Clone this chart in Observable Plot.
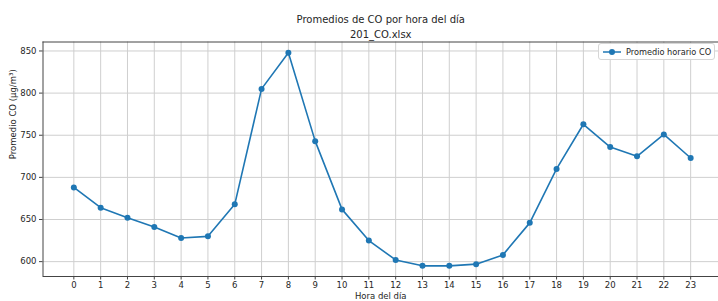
<!DOCTYPE html>
<html>
<head>
<meta charset="utf-8">
<script src="https://cdn.jsdelivr.net/npm/d3@7"></script>
<script src="https://cdn.jsdelivr.net/npm/@observablehq/plot@0.6"></script>
<style>
  html, body { margin: 0; padding: 0; background: #fff; }
  #wrap { position: relative; width: 718px; height: 301px; overflow: hidden; font-family: "DejaVu Sans", sans-serif; }
  #legend { position: absolute; left: 598px; top: 43px; width: 117px; height: 17px; box-sizing: border-box;
            border: 1px solid #d6d6d6; border-radius: 3px; background: rgba(255,255,255,0.9);
            font-size: 8.2px; color: #262626; display: flex; align-items: center; white-space: nowrap; }
  #legend svg { margin-left: 3px; margin-right: 4px; flex: none; }
</style>
</head>
<body>
<div id="wrap">
  <div id="chart"></div>
  <div id="legend"><svg width="20" height="10"><line x1="1" y1="5" x2="19" y2="5" stroke="#1f77b4" stroke-width="1.5"/><circle cx="10" cy="5" r="3" fill="#1f77b4"/></svg><span>Promedio horario CO</span></div>
</div>
<script>
const hours = [0,1,2,3,4,5,6,7,8,9,10,11,12,13,14,15,16,17,18,19,20,21,22,23];
const coValues = [688,664,652,641,628,630,668,805,848,743,662,625,602,595,595,597,608,646,710,763,736,725,751,723];
const yTicks = [600,650,700,750,800,850];
const titleText = "Promedios de CO por hora del día\n201_CO.xlsx";
const xLabel = "Hora del día";
const yLabel = "Promedio CO (µg/m³)";
const legendLabel = "Promedio horario CO";

const data = hours.map((h, i) => ({hour: h, value: coValues[i]}));
const xDomain = [-1.15, 24.15];
const yDomain = [582.35, 860.65];
const blue = "#1f77b4";
const ink = "#262626";

const chart = Plot.plot({
  width: 718,
  height: 301,
  marginLeft: 42.5,
  marginRight: 0,
  marginTop: 41.5,
  marginBottom: 25,
  style: {fontFamily: "DejaVu Sans, sans-serif", fontSize: "8.5px", color: ink, background: "#fff"},
  x: {domain: xDomain, range: [42.5, 721]},
  y: {domain: yDomain, range: [276, 41.5]},
  marks: [
    Plot.gridX(hours, {stroke: "#cfcfcf", strokeOpacity: 1, strokeWidth: 1}),
    Plot.gridY(yTicks, {stroke: "#cfcfcf", strokeOpacity: 1, strokeWidth: 1}),
    Plot.axisX(hours, {tickSize: 3.5, tickPadding: 2, label: null, stroke: "#444", fill: ink}),
    Plot.axisY(yTicks, {tickSize: 3.5, tickPadding: 3, label: null, stroke: "#444", fill: ink}),
    Plot.ruleX([xDomain[0]], {stroke: "#444", strokeWidth: 1}),
    Plot.ruleY([yDomain[0], yDomain[1]], {stroke: "#444", strokeWidth: 1}),
    Plot.line(data, {x: "hour", y: "value", stroke: blue, strokeWidth: 1.6}),
    Plot.dot(data, {x: "hour", y: "value", fill: blue, r: 3}),
    Plot.text([titleText], {frameAnchor: "top", lineAnchor: "bottom", dy: -4, fontSize: 10, lineHeight: 1.5, fill: ink}),
    Plot.text([xLabel], {frameAnchor: "bottom", lineAnchor: "middle", dy: 20, fontSize: 8.5, fill: ink}),
    Plot.text([yLabel], {frameAnchor: "left", rotate: -90, dx: -30, fontSize: 8.5, fill: ink})
  ]
});
document.getElementById("chart").appendChild(chart);
document.querySelector("#legend span").textContent = legendLabel;
</script>
</body>
</html>
